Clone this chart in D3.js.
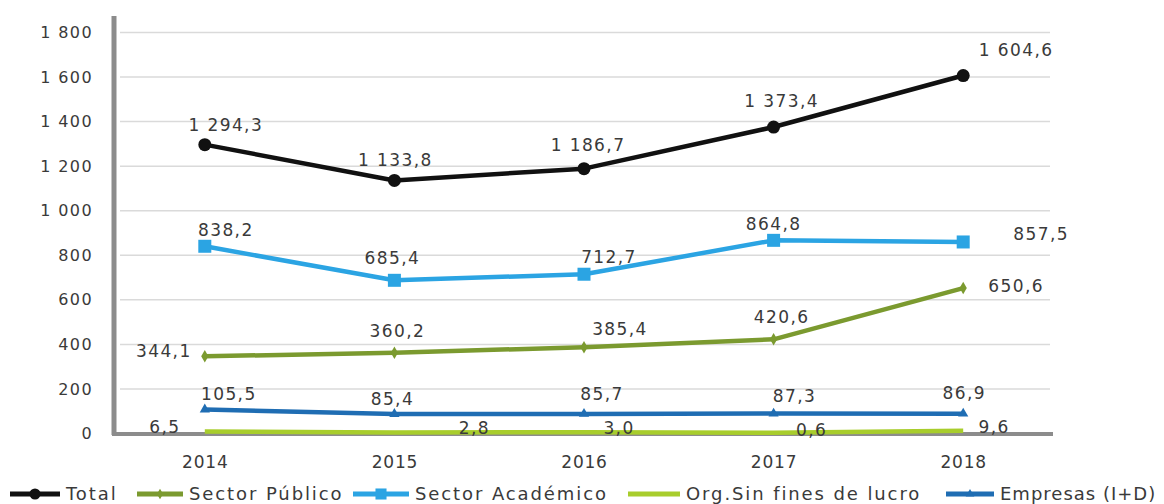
<!DOCTYPE html>
<html>
<head>
<meta charset="utf-8">
<script src="https://cdn.jsdelivr.net/npm/d3@7"></script>
<style>
  body { margin: 0; background: #fff; }
  svg { display: block; font-family: "DejaVu Sans", sans-serif; }
</style>
</head>
<body>
<svg id="chart" width="1164" height="504"></svg>
<script>
// Years and series (millones de soles)
const years = ["2014", "2015", "2016", "2017", "2018"];
const total = [1294.3, 1133.8, 1186.7, 1373.4, 1604.6];
const sectorPublico = [344.1, 360.2, 385.4, 420.6, 650.6];
const sectorAcademico = [838.2, 685.4, 712.7, 864.8, 857.5];
const orgSinFines = [6.5, 2.8, 3.0, 0.6, 9.6];
const empresas = [105.5, 85.4, 85.7, 87.3, 86.9];
const yTicks = [0, 200, 400, 600, 800, 1000, 1200, 1400, 1600, 1800];

const series = [
  { name: "Total", values: total, color: "#111111", marker: "circle" },
  { name: "Sector Público", values: sectorPublico, color: "#7b9a2f", marker: "diamond" },
  { name: "Sector Académico", values: sectorAcademico, color: "#2ba4e3", marker: "square" },
  { name: "Org.Sin fines de lucro", values: orgSinFines, color: "#a8cd2c", marker: "none" },
  { name: "Empresas (I+D)", values: empresas, color: "#1f6db3", marker: "triangle" }
];

// Value label offsets from each point: [dx, dy]
const labelOffset = {
  "Total": [[21, -20], [1, -20], [4, -24], [8, -26], [53, -25]],
  "Sector Público": [[-41, -5], [3, -22], [36, -18], [8, -22], [53, -2]],
  "Sector Académico": [[21, -16], [-2, -22], [25, -17], [0, -16], [78, -8]],
  "Org.Sin fines de lucro": [[-40, -5], [80, -4], [35, -4], [38, -3], [31, -4]],
  "Empresas (I+D)": [[24, -15], [-2, -15], [18, -20], [21, -18], [1, -21]]
};

// Legend layout: line start, line length, letter spacing per entry
const legendLayout = [[10, 50, 1.9], [137, 46, 1.9], [353, 56, 1.9], [628, 52, 1.9], [946, 48, 1.0]];

const svg = d3.select("#chart");
const x = d3.scalePoint().domain(years).range([110, 1058]).padding(0.5);
const y = d3.scaleLinear().domain([0, 1800]).range([433, 32]);

const fmtNum = v => {
  const [i, dec] = v.toFixed(1).split(".");
  return i.replace(/\B(?=(\d{3})+(?!\d))/g, " ") + "," + dec;
};
const fmtTick = v => String(v).replace(/\B(?=(\d{3})+(?!\d))/g, " ");
const textColor = "#3a3a3a";

// Gridlines
svg.append("g")
  .attr("transform", "translate(120,0)")
  .call(d3.axisLeft(y).tickValues(yTicks.filter(t => t > 0)).tickSize(-930).tickFormat(""))
  .call(g => g.select(".domain").remove())
  .call(g => g.selectAll("line").attr("stroke", "#dadada").attr("stroke-width", 1.5));

// Y axis labels
svg.append("g")
  .attr("transform", "translate(93,0)")
  .call(d3.axisLeft(y).tickValues(yTicks).tickSize(0).tickPadding(0).tickFormat(fmtTick))
  .call(g => g.select(".domain").remove())
  .call(g => g.selectAll("text")
    .attr("font-family", "DejaVu Sans").attr("font-size", 16)
    .attr("letter-spacing", 1.4).attr("fill", textColor).attr("dy", "0.35em"));

// Axis lines
svg.append("line").attr("x1", 114).attr("x2", 114).attr("y1", 16).attr("y2", 435)
  .attr("stroke", "#8c8c8c").attr("stroke-width", 5);
svg.append("line").attr("x1", 112).attr("x2", 1053).attr("y1", 434).attr("y2", 434)
  .attr("stroke", "#8c8c8c").attr("stroke-width", 4);

// X axis labels
svg.append("g")
  .attr("transform", "translate(0,468)")
  .call(d3.axisBottom(x).tickSize(0).tickPadding(0))
  .call(g => g.select(".domain").remove())
  .call(g => g.selectAll("text")
    .attr("font-family", "DejaVu Sans").attr("font-size", 17)
    .attr("letter-spacing", 0.8).attr("fill", textColor).attr("dy", "0"));

const line = d3.line().x((d, i) => x(years[i])).y(d => y(d));

function drawMarker(g, type, color, cx, cy, s) {
  if (type === "circle") {
    g.append("circle").attr("cx", cx).attr("cy", cy).attr("r", 6.5 * s).attr("fill", color);
  } else if (type === "square") {
    g.append("rect").attr("x", cx - 6.5 * s).attr("y", cy - 6.5 * s)
      .attr("width", 13 * s).attr("height", 13 * s).attr("fill", color);
  } else if (type === "diamond") {
    g.append("path").attr("d", d3.symbol(d3.symbolDiamond, 45 * s * s)())
      .attr("transform", `translate(${cx},${cy})`).attr("fill", color);
  } else if (type === "triangle") {
    g.append("path").attr("d", d3.symbol(d3.symbolTriangle, 45 * s * s)())
      .attr("transform", `translate(${cx},${cy})`).attr("fill", color);
  }
}

// Lines drawn bottom-up so the smaller series sit beneath
const drawOrder = ["Org.Sin fines de lucro", "Empresas (I+D)", "Sector Público", "Sector Académico", "Total"];
drawOrder.forEach(name => {
  const s = series.find(d => d.name === name);
  const g = svg.append("g");
  g.append("path").datum(s.values).attr("d", line)
    .attr("fill", "none").attr("stroke", s.color).attr("stroke-width", 4.5)
    .attr("stroke-linejoin", "round");
  s.values.forEach((v, i) => drawMarker(g, s.marker, s.color, x(years[i]), y(v), 1));
});

// Value labels
series.forEach(s => {
  const off = labelOffset[s.name];
  svg.append("g").selectAll("text").data(s.values).join("text")
    .attr("x", (d, i) => x(years[i]) + off[i][0])
    .attr("y", (d, i) => y(d) + off[i][1])
    .attr("text-anchor", "middle")
    .attr("font-size", 17)
    .attr("letter-spacing", 1.4)
    .attr("fill", textColor)
    .attr("dy", "0.35em")
    .text(d => fmtNum(d));
});

// Legend
const legend = svg.append("g").attr("transform", "translate(0,494)");
series.forEach((s, i) => {
  const [lx, len, ls] = legendLayout[i];
  const g = legend.append("g").attr("transform", `translate(${lx},0)`);
  g.append("line").attr("x1", 0).attr("x2", len).attr("y1", 0).attr("y2", 0)
    .attr("stroke", s.color).attr("stroke-width", 5);
  drawMarker(g, s.marker, s.color, len / 2, 0, 0.85);
  g.append("text").attr("x", len + 6).attr("y", 0).attr("dy", "0.35em")
    .attr("font-size", 18).attr("letter-spacing", ls)
    .attr("fill", textColor).text(s.name);
});
</script>
</body>
</html>
